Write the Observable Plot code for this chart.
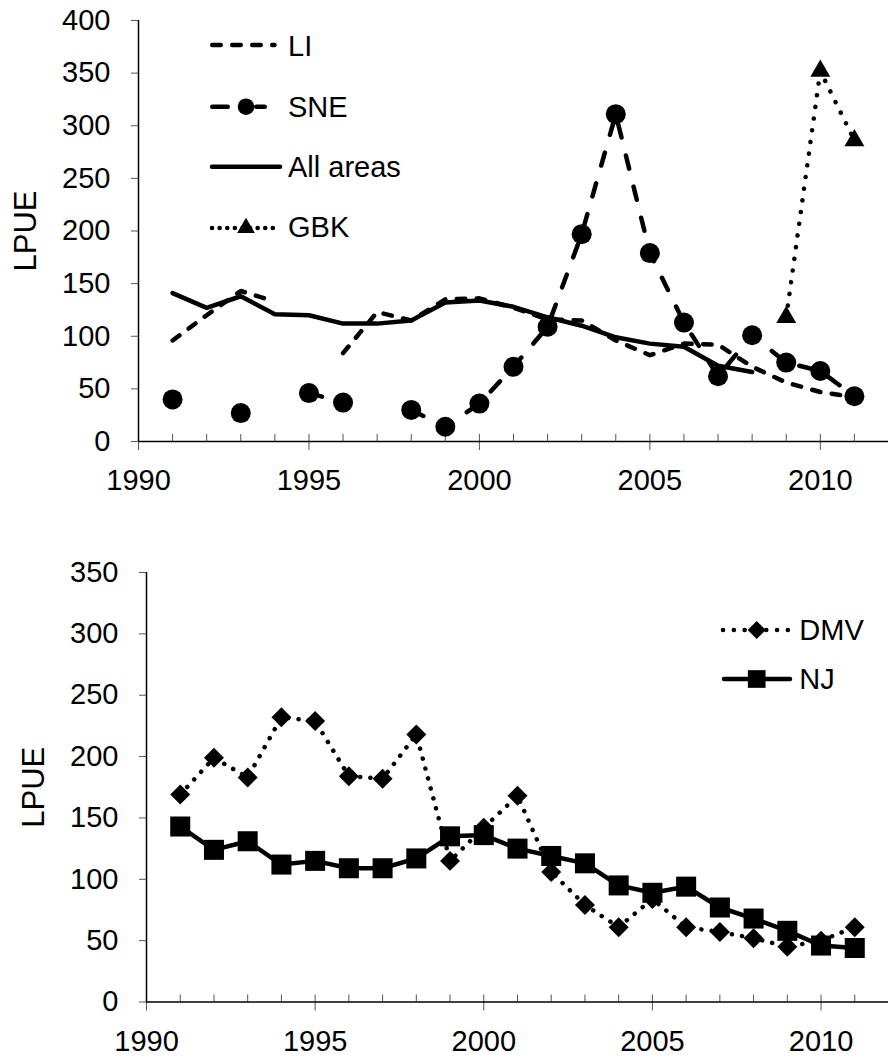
<!DOCTYPE html>
<html>
<head>
<meta charset="utf-8">
<script src="https://cdn.jsdelivr.net/npm/d3@7"></script>
<script src="https://cdn.jsdelivr.net/npm/@observablehq/plot@0.6"></script>
<style>
  html, body { margin: 0; padding: 0; background: #fff; }
  #fig { position: relative; width: 888px; height: 1059px; font-family: "Liberation Sans", Arial, sans-serif; }
  #fig > svg { position: absolute; left: 0; }
</style>
</head>
<body>
<div id="fig"></div>
<script>
// ---- Data: LPUE by year, 1991–2011 (null = no value that year) ----
const years = d3.range(1991, 2012);

// Upper panel
const li       = [96, 120, 143, 133, null, 84, 123, 115, 135, 136, 127, 116, 115, 96, 82, 93, 92, 71, 56, 47, 42];
const sne      = [40, null, 27, null, 46, 37, null, 30, 14, 36, 71, 109, 197, 311, 179, 113, 62, 101, 75, 67, 43];
const allAreas = [141, 127, 138, 121, 120, 112, 112, 115, 132, 134, 128, 118, 110, 99, 93, 90, 72, 66, null, null, null];
const gbk      = [null, null, null, null, null, null, null, null, null, null, null, null, null, null, null, null, null, null, 118, 352, 286];

// Lower panel
const dmv = [169, 199, 183, 232, 229, 184, 182, 218, 115, 142, 168, 106, 79, 61, 84, 61, 57, 52, 45, 50, 61];
const nj  = [143, 124, 131, 112, 115, 109, 109, 117, 135, 136, 125, 119, 113, 95, 89, 94, 77, 68, 58, 46, 44];

// Axis ticks
const xLabelTicks = [1990, 1995, 2000, 2005, 2010];
const xMinorTicks = d3.range(1990, 2012);
const yTicksTop = d3.range(0, 401, 50);
const yTicksBottom = d3.range(0, 351, 50);
const yLabel = "LPUE";

// Legend entries
const legendTop = ["LI", "SNE", "All areas", "GBK"];
const legendBottom = ["DMV", "NJ"];

// ---- helpers ----
const rows = (vals) => years.map((year, i) => ({year, v: vals[i] == null ? NaN : vals[i]}));
const present = (vals) => rows(vals).filter(d => !Number.isNaN(d.v));

const FONT = "Liberation Sans, Arial, sans-serif";
const LW = 4.5;
const dashLI = "8.5,11.5";
const dashSNE = "13.5,18.5";
const dotTop = "0.1,11.7";
const dotBottom = "0.1,10.2";

// square rotated 45°, like an Excel diamond marker
const diamond = {
  draw(ctx, size) {
    const r = Math.sqrt(size) * 0.62625;
    ctx.moveTo(0, -r); ctx.lineTo(r, 0); ctx.lineTo(0, r); ctx.lineTo(-r, 0); ctx.closePath();
  }
};

function frameMarks(yTicks) {
  return [
    Plot.axisY({ticks: yTicks, tickSize: 7, tickPadding: 21, stroke: "#555", tickFormat: "d", fontSize: 29, label: null}),
    Plot.axisY({ticks: [], label: yLabel, labelAnchor: "center", labelArrow: "none", labelOffset: 125, fontSize: 31}),
    // yearly minor ticks sit inside the plot, above the axis line
    Plot.axisX({ticks: xMinorTicks, tickSize: 7, dy: -7, stroke: "#555", tickFormat: () => "", label: null}),
    Plot.axisX({ticks: xLabelTicks, tickSize: 9, tickPadding: 19, stroke: "#555", tickFormat: "d", label: null, fontSize: 29}),
    Plot.ruleX([1990], {stroke: "black", strokeWidth: 1.5}),
    Plot.ruleY([0], {stroke: "black", strokeWidth: 1.5})
  ];
}

const fig = document.getElementById("fig");

// ---- Upper panel ----
const topChart = Plot.plot({
  width: 888, height: 500,
  marginTop: 20, marginBottom: 59, marginLeft: 138, marginRight: 0,
  style: {fontFamily: FONT, fontSize: "29px", color: "black", background: "white", overflow: "visible"},
  x: {domain: [1990, 2012]},
  y: {domain: [0, 400]},
  marks: [
    ...frameMarks(yTicksTop),
    Plot.line(rows(li), {x: "year", y: "v", stroke: "black", strokeWidth: LW, strokeDasharray: dashLI, strokeLinecap: "round"}),
    Plot.line(rows(sne), {x: "year", y: "v", stroke: "black", strokeWidth: LW, strokeDasharray: dashSNE, strokeLinecap: "round"}),
    Plot.dot(present(sne), {x: "year", y: "v", r: 10, fill: "black", stroke: null}),
    Plot.line(rows(allAreas), {x: "year", y: "v", stroke: "black", strokeWidth: LW}),
    Plot.line(rows(gbk), {x: "year", y: "v", stroke: "black", strokeWidth: LW, strokeDasharray: dotTop, strokeLinecap: "round"}),
    Plot.dot(present(gbk), {x: "year", y: "v", symbol: "triangle", r: 7.4, fill: "black", stroke: null})
  ]
});
topChart.style.top = "0px";
fig.appendChild(topChart);

// ---- Lower panel ----
const bottomChart = Plot.plot({
  width: 888, height: 559,
  marginTop: 72, marginBottom: 57.5, marginLeft: 146, marginRight: 0,
  style: {fontFamily: FONT, fontSize: "29px", color: "black", background: "white", overflow: "visible"},
  x: {domain: [1990, 2012]},
  y: {domain: [0, 350]},
  marks: [
    ...frameMarks(yTicksBottom),
    Plot.line(rows(dmv), {x: "year", y: "v", stroke: "black", strokeWidth: LW, strokeDasharray: dotBottom, strokeLinecap: "round"}),
    Plot.dot(present(dmv), {x: "year", y: "v", symbol: diamond, r: 9, fill: "black", stroke: null}),
    Plot.line(rows(nj), {x: "year", y: "v", stroke: "black", strokeWidth: LW}),
    Plot.dot(present(nj), {x: "year", y: "v", symbol: "square", r: 11.3, fill: "black", stroke: null})
  ]
});
bottomChart.style.top = "500px";
fig.appendChild(bottomChart);

// ---- Legends (overlay) ----
const legend = d3.select(fig).append("svg")
  .attr("width", 888).attr("height", 1059)
  .style("top", "0px").style("pointer-events", "none");

function sample(g, {y, x1, x2, dash, marker, size, mx}) {
  const line = g.append("line")
    .attr("x1", x1).attr("x2", x2).attr("y1", y).attr("y2", y)
    .attr("stroke", "black").attr("stroke-width", LW).attr("stroke-linecap", "round");
  if (dash) line.attr("stroke-dasharray", dash);
  if (marker) {
    g.append("path")
      .attr("transform", `translate(${mx},${y})`)
      .attr("d", d3.symbol().type(marker).size(size)())
      .attr("fill", "black");
  }
}
function label(g, text, x, y) {
  g.append("text").attr("x", x).attr("y", y)
    .attr("font-family", FONT).attr("font-size", 29).attr("fill", "black").text(text);
}

const gt = legend.append("g");
sample(gt, {y: 45, x1: 212.25, x2: 274.5, dash: dashLI});
label(gt, legendTop[0], 288, 56);
sample(gt, {y: 106.7, x1: 212.25, x2: 264.75, dash: "15.5,28.5", marker: d3.symbolCircle, size: Math.PI * 8.3 * 8.3, mx: 246});
label(gt, legendTop[1], 288, 117.3);
sample(gt, {y: 166.7, x1: 212, x2: 280});
label(gt, legendTop[2], 288, 176.7);
sample(gt, {y: 228, x1: 212, x2: 273, dash: "0.1,7.5", marker: d3.symbolTriangle, size: 136, mx: 246});
label(gt, legendTop[3], 288, 236.7);

const gb = legend.append("g");
sample(gb, {y: 630, x1: 723, x2: 790, dash: "0.1,10.7", marker: diamond, size: 206, mx: 756.7});
label(gb, legendBottom[0], 799.3, 640);
sample(gb, {y: 679, x1: 724, x2: 790, marker: d3.symbolSquare, size: 313, mx: 756.7});
label(gb, legendBottom[1], 799.3, 689);
</script>
</body>
</html>
